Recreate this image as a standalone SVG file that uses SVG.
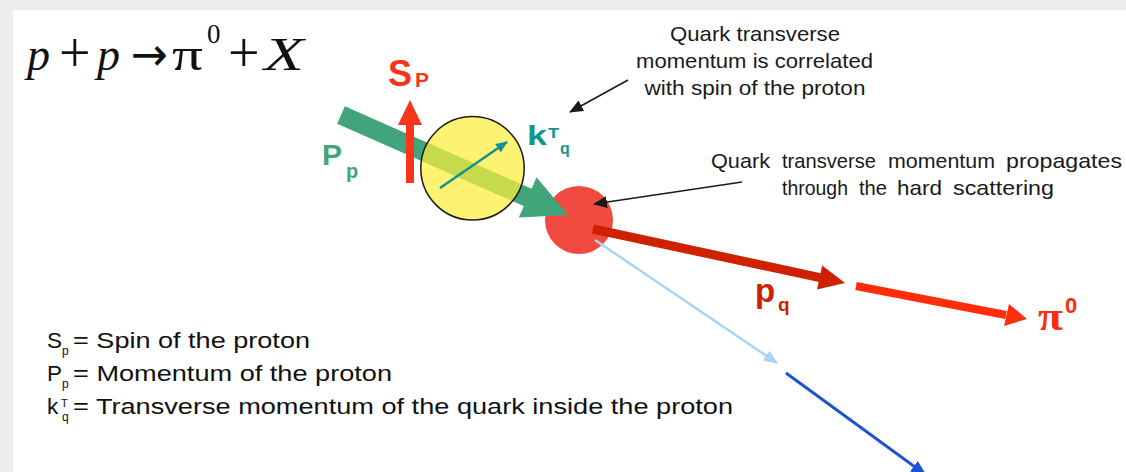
<svg xmlns="http://www.w3.org/2000/svg" width="1126" height="472" viewBox="0 0 1126 472">
<style>
.serif{font-family:"Liberation Serif","Times New Roman",serif;fill:#111}
.it{font-style:italic}
.sans{font-family:"Liberation Sans",Arial,sans-serif}
.ann{font-family:"Liberation Sans",Arial,sans-serif;font-size:21px;fill:#1a1a1a}
.leg{font-family:"Liberation Sans",Arial,sans-serif;font-size:22.5px;fill:#111}
.thin{fill:none;stroke:#1a1a1a;stroke-width:1.5}
</style>
<defs>
<marker id="ahBlack" markerUnits="userSpaceOnUse" markerWidth="14" markerHeight="12" viewBox="0 0 14 12" refX="13" refY="6" orient="auto"><path d="M0,0 L14,6 L0,12 z" fill="#1a1a1a"/></marker>
<marker id="ahLight" markerUnits="userSpaceOnUse" markerWidth="14" markerHeight="12" viewBox="0 0 14 12" refX="13" refY="6" orient="auto"><path d="M0,0 L14,6 L0,12 z" fill="#a8d5f7"/></marker>
<marker id="ahBlue" markerUnits="userSpaceOnUse" markerWidth="16" markerHeight="13" viewBox="0 0 16 13" refX="15" refY="6.5" orient="auto"><path d="M0,0 L16,6.5 L0,13 z" fill="#1d52d4"/></marker>
<marker id="ahTeal" markerUnits="userSpaceOnUse" markerWidth="12" markerHeight="10" viewBox="0 0 12 10" refX="11" refY="5" orient="auto"><path d="M0,0 L12,5 L0,10 z" fill="#16908e"/></marker>
</defs>

<rect x="0" y="0" width="1126" height="472" fill="#efeeec"/>
<rect x="13" y="10" width="1113" height="462" fill="#ffffff"/>

<g id="formula">
<text x="27" y="70" font-size="46" class="serif it">p</text>
<text x="59" y="72" font-size="56" class="serif">+</text>
<text x="97" y="70" font-size="46" class="serif it">p</text>
<text x="131" y="70" font-size="46" font-family="DejaVu Sans, sans-serif" fill="#111" textLength="37" lengthAdjust="spacingAndGlyphs">→</text>
<text x="172" y="70" font-size="46" class="serif" textLength="31" lengthAdjust="spacingAndGlyphs">π</text>
<text x="207" y="43" font-size="27" class="serif">0</text>
<text x="228" y="72" font-size="56" class="serif">+</text>
<text x="264" y="70" font-size="46" class="serif it" textLength="40" lengthAdjust="spacingAndGlyphs">X</text>
</g>

<g id="hard-scattering">
<circle cx="579" cy="220" r="34" fill="#f24a40"/>
</g>

<g id="connectors">
<line x1="341" y1="115" x2="529" y2="198" stroke="#41a47a" stroke-width="19"/>
<polygon points="568,215 536.6,177.2 518.8,217.4" fill="#41a47a"/>
<line x1="410" y1="183" x2="410" y2="124" stroke="#f7341c" stroke-width="8"/>
<polygon points="410,100 422,125 398,125" fill="#f7341c"/>
<line x1="593" y1="229" x2="820" y2="277.6" stroke="#cf2000" stroke-width="9"/>
<polygon points="845,283 822.2,265.6 817,289.6" fill="#cf2000"/>
<line x1="856" y1="286" x2="1006" y2="315" stroke="#ff2d0a" stroke-width="8"/>
<polygon points="1027,319 1009,304 1004,326" fill="#ff2d0a"/>
<line x1="595" y1="240" x2="777" y2="363" stroke="#a8d5f7" stroke-width="2.5" marker-end="url(#ahLight)"/>
<line x1="786" y1="373" x2="926" y2="475" stroke="#1d52d4" stroke-width="3" marker-end="url(#ahBlue)"/>
<line x1="628" y1="80" x2="570" y2="112" class="thin" marker-end="url(#ahBlack)"/>
<line x1="742" y1="182" x2="594" y2="204" class="thin" marker-end="url(#ahBlack)"/>
</g>

<g id="proton">
<circle cx="472.5" cy="168.3" r="51.7" fill="#f9ee3a" fill-opacity="0.72" stroke="#1a1a1a" stroke-width="1.5"/>
<line x1="440" y1="188" x2="507" y2="142" stroke="#16908e" stroke-width="2.5" marker-end="url(#ahTeal)"/>
</g>

<g id="label-sp">
<text x="388" y="86" font-size="36" font-weight="bold" class="sans" fill="#f7341c">S</text>
<text x="415" y="87" font-size="21" font-weight="bold" class="sans" fill="#f7341c">P</text>
</g>

<g id="label-pp">
<text x="322" y="165" font-size="30" font-weight="bold" class="sans" fill="#41a47a">P</text>
<text x="346" y="178" font-size="20" font-weight="bold" class="sans" fill="#41a47a">p</text>
</g>

<g id="label-kt">
<text x="527" y="145" font-size="28" font-weight="bold" class="sans" fill="#16958f" textLength="20" lengthAdjust="spacingAndGlyphs">k</text>
<text x="548" y="138" font-size="15" font-weight="bold" class="sans" fill="#16958f" textLength="11" lengthAdjust="spacingAndGlyphs">T</text>
<text x="560" y="154" font-size="16" font-weight="bold" class="sans" fill="#16958f">q</text>
</g>

<g id="label-pq">
<text x="755" y="302" font-size="33" font-weight="bold" class="sans" fill="#cf2000">p</text>
<text x="778" y="311" font-size="19" font-weight="bold" class="sans" fill="#cf2000">q</text>
</g>

<g id="label-pi0">
<text x="1038" y="330" font-size="40" font-weight="bold" font-family="Liberation Serif, serif" fill="#ff2d0a" textLength="25" lengthAdjust="spacingAndGlyphs">π</text>
<text x="1065" y="313" font-size="22" font-weight="bold" class="sans" fill="#ff2d0a">0</text>
</g>

<g id="note-correlated">
<text x="670" y="41" class="ann" textLength="170" lengthAdjust="spacingAndGlyphs">Quark transverse</text>
<text x="636" y="68" class="ann" textLength="237" lengthAdjust="spacingAndGlyphs">momentum is correlated</text>
<text x="644.5" y="95" class="ann" textLength="221" lengthAdjust="spacingAndGlyphs">with spin of the proton</text>
</g>

<g id="note-propagates">
<text x="711" y="168" class="ann" textLength="59" lengthAdjust="spacingAndGlyphs">Quark</text>
<text x="782" y="168" class="ann" textLength="94" lengthAdjust="spacingAndGlyphs">transverse</text>
<text x="888" y="168" class="ann" textLength="107" lengthAdjust="spacingAndGlyphs">momentum</text>
<text x="1006" y="168" class="ann" textLength="116" lengthAdjust="spacingAndGlyphs">propagates</text>
<text x="782" y="195" class="ann" textLength="66" lengthAdjust="spacingAndGlyphs">through</text>
<text x="859" y="195" class="ann" textLength="28" lengthAdjust="spacingAndGlyphs">the</text>
<text x="897" y="195" class="ann" textLength="45" lengthAdjust="spacingAndGlyphs">hard</text>
<text x="953" y="195" class="ann" textLength="101" lengthAdjust="spacingAndGlyphs">scattering</text>
</g>

<g id="legend">
<text x="47" y="348" class="leg">S</text>
<text x="62" y="355" class="leg" style="font-size:12px">p</text>
<text x="73" y="348" class="leg" textLength="237" lengthAdjust="spacingAndGlyphs">= Spin of the proton</text>
<text x="47" y="381" class="leg">P</text>
<text x="62" y="388" class="leg" style="font-size:12px">p</text>
<text x="73" y="381" class="leg" textLength="319" lengthAdjust="spacingAndGlyphs">= Momentum of the proton</text>
<text x="47" y="414" class="leg">k</text>
<text x="61" y="407" class="leg" style="font-size:11px">T</text>
<text x="62" y="421" class="leg" style="font-size:12px">q</text>
<text x="73" y="414" class="leg" textLength="660" lengthAdjust="spacingAndGlyphs">= Transverse momentum of the quark inside the proton</text>
</g>
</svg>
